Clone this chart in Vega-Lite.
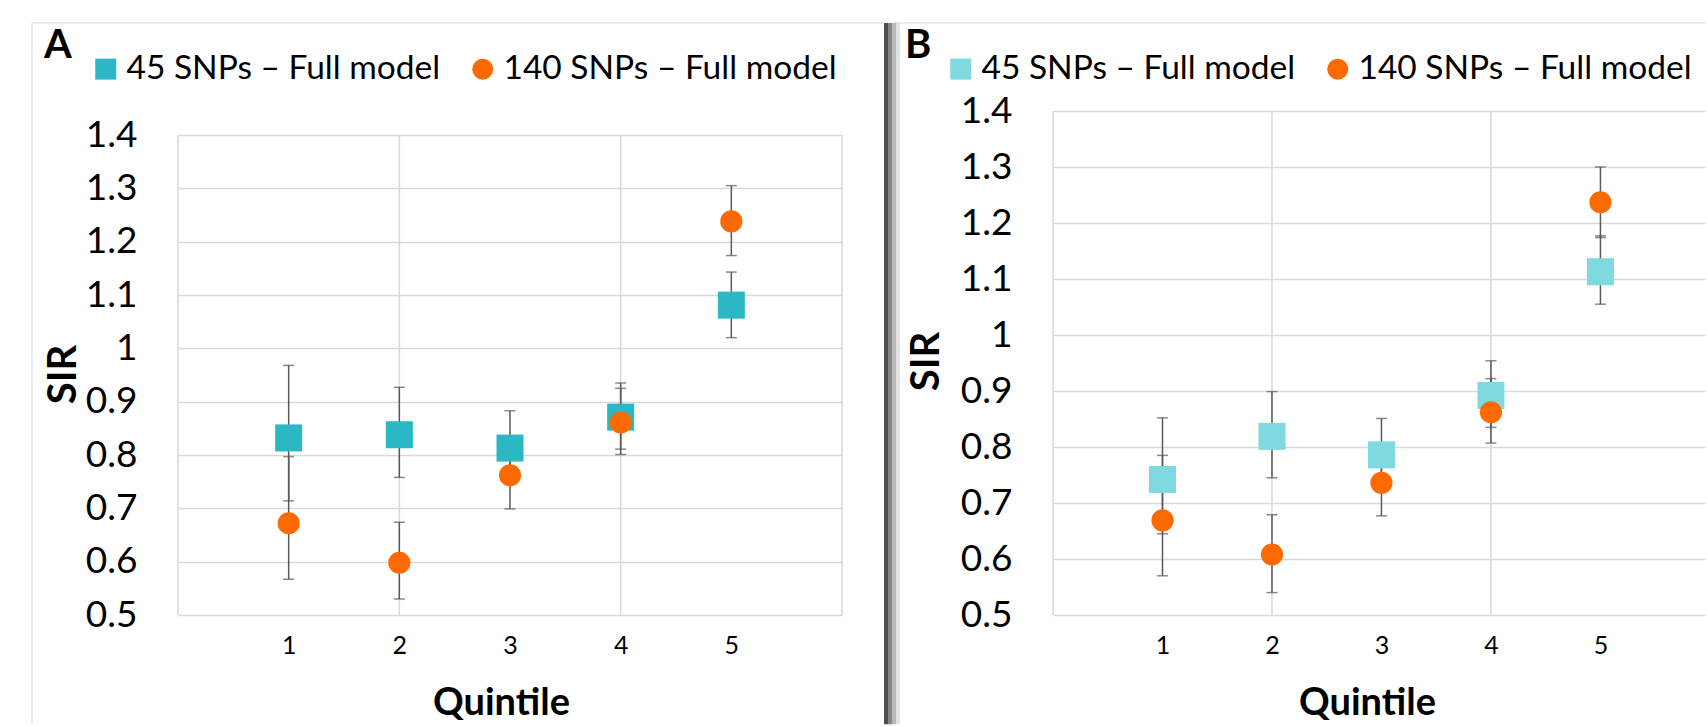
{
  "$schema": "https://vega.github.io/schema/vega-lite/v6.json",
  "padding": {"left": 31, "top": 21, "right": 0, "bottom": 0},
  "background": "white",
  "spacing": 0,
  "config": {
    "font": "Lato",
    "view": {"stroke": null},
    "axisX": {"grid": false, "domain": false, "ticks": false, "tickSize": 0, "labelFontSize": 25, "labelFont": "Lato", "labelColor": "black", "labelPadding": 30, "labelBaseline": "middle", "labelFlush": false, "titleFontSize": 38, "titleFont": "Lato", "titleFontWeight": "bold", "titleColor": "black"},
    "axisY": {"grid": true, "gridColor": "#D9D9D9", "gridWidth": 1.5, "domain": false, "ticks": false, "tickSize": 0, "labelFontSize": 37, "labelFont": "Lato", "labelColor": "black", "labelPadding": 41, "labelBaseline": "middle", "titleFontSize": 40, "titleFont": "Lato", "titleFontWeight": "bold", "titleColor": "black"},
    "legend": {
      "symbolSize": 441, "labelFontSize": 33.5, "labelFont": "Lato", "labelColor": "black",
      "labelOffset": 4, "columnPadding": 25, "padding": 0, "symbolStrokeWidth": 0,
      "symbolOpacity": 1, "labelLimit": 600, "title": null
    }
  },
  "datasets": {
    "sir": [
      {"panel": "A", "quintile": 1, "series": "45 SNPs – Full model", "sir": 0.832, "lo": 0.714, "hi": 0.968},
      {"panel": "A", "quintile": 2, "series": "45 SNPs – Full model", "sir": 0.838, "lo": 0.758, "hi": 0.927},
      {"panel": "A", "quintile": 3, "series": "45 SNPs – Full model", "sir": 0.813, "lo": 0.745, "hi": 0.883},
      {"panel": "A", "quintile": 4, "series": "45 SNPs – Full model", "sir": 0.871, "lo": 0.811, "hi": 0.935},
      {"panel": "A", "quintile": 5, "series": "45 SNPs – Full model", "sir": 1.081, "lo": 1.020, "hi": 1.143},
      {"panel": "A", "quintile": 1, "series": "140 SNPs – Full model", "sir": 0.672, "lo": 0.567, "hi": 0.797},
      {"panel": "A", "quintile": 2, "series": "140 SNPs – Full model", "sir": 0.598, "lo": 0.530, "hi": 0.674},
      {"panel": "A", "quintile": 3, "series": "140 SNPs – Full model", "sir": 0.762, "lo": 0.699, "hi": 0.830},
      {"panel": "A", "quintile": 4, "series": "140 SNPs – Full model", "sir": 0.861, "lo": 0.801, "hi": 0.925},
      {"panel": "A", "quintile": 5, "series": "140 SNPs – Full model", "sir": 1.238, "lo": 1.174, "hi": 1.305},
      {"panel": "B", "quintile": 1, "series": "45 SNPs – Full model", "sir": 0.742, "lo": 0.645, "hi": 0.852},
      {"panel": "B", "quintile": 2, "series": "45 SNPs – Full model", "sir": 0.819, "lo": 0.745, "hi": 0.899},
      {"panel": "B", "quintile": 3, "series": "45 SNPs – Full model", "sir": 0.786, "lo": 0.725, "hi": 0.851},
      {"panel": "B", "quintile": 4, "series": "45 SNPs – Full model", "sir": 0.892, "lo": 0.835, "hi": 0.954},
      {"panel": "B", "quintile": 5, "series": "45 SNPs – Full model", "sir": 1.113, "lo": 1.055, "hi": 1.177},
      {"panel": "B", "quintile": 1, "series": "140 SNPs – Full model", "sir": 0.669, "lo": 0.570, "hi": 0.785},
      {"panel": "B", "quintile": 2, "series": "140 SNPs – Full model", "sir": 0.608, "lo": 0.540, "hi": 0.679},
      {"panel": "B", "quintile": 3, "series": "140 SNPs – Full model", "sir": 0.736, "lo": 0.677, "hi": 0.800},
      {"panel": "B", "quintile": 4, "series": "140 SNPs – Full model", "sir": 0.862, "lo": 0.807, "hi": 0.922},
      {"panel": "B", "quintile": 5, "series": "140 SNPs – Full model", "sir": 1.237, "lo": 1.174, "hi": 1.300}
    ]
  },
  "resolve": {
    "scale": {"x": "independent", "y": "independent", "color": "independent", "shape": "independent"},
    "legend": {"color": "independent", "shape": "independent"}
  },
  "hconcat": [
    {
      "width": 664,
      "height": 504,
      "data": {"name": "sir"},
      "layer": [
        {
          "data": {"values": [{}]},
          "mark": {"type": "rule", "color": "#EAEAEA", "strokeWidth": 2},
          "encoding": {
            "x": {"datum": -1.319, "type": "quantitative", "title": "Quintile", "scale": {"domain": [0, 6], "nice": false, "zero": false}},
            "x2": {"datum": 6.37},
            "y": {"datum": 1.61, "type": "quantitative", "title": "SIR", "scale": {"domain": [0.5, 1.445], "nice": false, "zero": false}}
          }
        },
        {
          "data": {"values": [{}]},
          "mark": {"type": "rule", "color": "#EAEAEA", "strokeWidth": 2},
          "encoding": {
            "x": {"datum": -1.319, "type": "quantitative", "title": "Quintile"},
            "y": {"datum": 1.61, "type": "quantitative", "title": "SIR"},
            "y2": {"datum": 0.294}
          }
        },
        {
          "data": {"values": [{"g": 0}, {"g": 2}, {"g": 4}, {"g": 6}]},
          "mark": {"type": "rule", "color": "#D9D9D9", "strokeWidth": 1.5},
          "encoding": {
            "x": {"field": "g", "type": "quantitative", "title": "Quintile"},
            "y": {"datum": 1.4, "type": "quantitative", "title": "SIR"},
            "y2": {"datum": 0.5}
          }
        },
        {
          "data": {"values": [{"letter": "A"}]},
          "mark": {"type": "text", "align": "left", "baseline": "alphabetic", "fontSize": 40, "fontWeight": "bold", "font": "Lato", "color": "black"},
          "encoding": {
            "text": {"field": "letter"},
            "x": {"datum": -1.211, "type": "quantitative", "title": "Quintile"},
            "y": {"datum": 1.544, "type": "quantitative", "title": "SIR"}
          }
        },
        {
          "transform": [{"filter": "datum.panel == 'A'"}],
          "mark": {"type": "rule", "color": "#595959", "strokeWidth": 1.5},
          "encoding": {
            "x": {"field": "quintile", "type": "quantitative", "title": "Quintile"},
            "y": {"field": "lo", "type": "quantitative", "title": "SIR"},
            "y2": {"field": "hi"}
          }
        },
        {
          "transform": [{"filter": "datum.panel == 'A'"}],
          "mark": {"type": "tick", "orient": "horizontal", "color": "#595959", "thickness": 1.5, "size": 11},
          "encoding": {
            "x": {"field": "quintile", "type": "quantitative", "title": "Quintile"},
            "y": {"field": "lo", "type": "quantitative", "title": "SIR"}
          }
        },
        {
          "transform": [{"filter": "datum.panel == 'A'"}],
          "mark": {"type": "tick", "orient": "horizontal", "color": "#595959", "thickness": 1.5, "size": 11},
          "encoding": {
            "x": {"field": "quintile", "type": "quantitative", "title": "Quintile"},
            "y": {"field": "hi", "type": "quantitative", "title": "SIR"}
          }
        },
        {
          "transform": [{"filter": "datum.series == '45 SNPs – Full model' && datum.panel == 'A'"}],
          "mark": {"type": "point", "filled": true, "opacity": 1, "strokeWidth": 0, "size": 729},
          "encoding": {
            "x": {
              "field": "quintile", "type": "quantitative", "title": "Quintile",
              "axis": {"values": [1, 2, 3, 4, 5], "format": "d", "titleX": 323, "titleY": 99, "titleBaseline": "alphabetic", "titleAlign": "center"}
            },
            "y": {
              "field": "sir", "type": "quantitative", "title": "SIR",
              "axis": {"values": [0.5, 0.6, 0.7, 0.8, 0.9, 1.0, 1.1, 1.2, 1.3, 1.4], "format": ".1~f",
                "titleAngle": -90, "titleX": -114.5, "titleY": 263, "titleAlign": "center", "titleBaseline": "middle"}
            },
            "color": {
              "field": "series", "type": "nominal",
              "scale": {"domain": ["45 SNPs – Full model", "140 SNPs – Full model"], "range": ["#2BB7C3", "#FF6A00"]},
              "legend": {"orient": "none", "legendX": -89, "legendY": -59, "direction": "horizontal", "title": null}
            },
            "shape": {
              "field": "series", "type": "nominal",
              "scale": {"domain": ["45 SNPs – Full model", "140 SNPs – Full model"], "range": ["square", "circle"]},
              "legend": {"orient": "none", "legendX": -89, "legendY": -59, "direction": "horizontal", "title": null}
            }
          }
        },
        {
          "transform": [{"filter": "datum.series == '140 SNPs – Full model' && datum.panel == 'A'"}],
          "mark": {"type": "point", "filled": true, "opacity": 1, "strokeWidth": 0, "size": 491},
          "encoding": {
            "x": {"field": "quintile", "type": "quantitative", "title": "Quintile"},
            "y": {"field": "sir", "type": "quantitative", "title": "SIR"},
            "color": {"field": "series", "type": "nominal"},
            "shape": {"field": "series", "type": "nominal"}
          }
        }
      ]
    },
    {
      "width": 652,
      "height": 504,
      "data": {"name": "sir"},
      "layer": [
        {
          "data": {"values": [{}]},
          "mark": {"type": "rule", "color": "#EAEAEA", "strokeWidth": 2},
          "encoding": {
            "x": {"datum": -1.461, "type": "quantitative", "title": "Quintile", "scale": {"domain": [0, 5.955], "nice": false, "zero": false}},
            "x2": {"datum": 5.955},
            "y": {"datum": 1.557, "type": "quantitative", "title": "SIR", "scale": {"domain": [0.5, 1.4], "nice": false, "zero": false}}
          }
        },
        {
          "data": {"values": [{}]},
          "mark": {"type": "rule", "color": "#4D4D4D", "strokeWidth": 4},
          "encoding": {
            "x": {"datum": -1.525, "type": "quantitative", "title": "Quintile"},
            "y": {"datum": 1.557, "type": "quantitative", "title": "SIR"},
            "y2": {"datum": 0.305}
          }
        },
        {
          "data": {"values": [{}]},
          "mark": {"type": "rule", "color": "#858585", "strokeWidth": 4},
          "encoding": {
            "x": {"datum": -1.489, "type": "quantitative", "title": "Quintile"},
            "y": {"datum": 1.557, "type": "quantitative", "title": "SIR"},
            "y2": {"datum": 0.305}
          }
        },
        {
          "data": {"values": [{}]},
          "mark": {"type": "rule", "color": "#B8B8B8", "strokeWidth": 4},
          "encoding": {
            "x": {"datum": -1.452, "type": "quantitative", "title": "Quintile"},
            "y": {"datum": 1.557, "type": "quantitative", "title": "SIR"},
            "y2": {"datum": 0.305}
          }
        },
        {
          "data": {"values": [{}]},
          "mark": {"type": "rule", "color": "#E2E2E2", "strokeWidth": 4},
          "encoding": {
            "x": {"datum": -1.416, "type": "quantitative", "title": "Quintile"},
            "y": {"datum": 1.557, "type": "quantitative", "title": "SIR"},
            "y2": {"datum": 0.305}
          }
        },
        {
          "data": {"values": [{"g": 0}, {"g": 2}, {"g": 4}]},
          "mark": {"type": "rule", "color": "#D9D9D9", "strokeWidth": 1.5},
          "encoding": {
            "x": {"field": "g", "type": "quantitative", "title": "Quintile"},
            "y": {"datum": 1.4, "type": "quantitative", "title": "SIR"},
            "y2": {"datum": 0.5}
          }
        },
        {
          "data": {"values": [{"letter": "B"}]},
          "mark": {"type": "text", "align": "left", "baseline": "alphabetic", "fontSize": 40, "fontWeight": "bold", "font": "Lato", "color": "black"},
          "encoding": {
            "text": {"field": "letter"},
            "x": {"datum": -1.352, "type": "quantitative", "title": "Quintile"},
            "y": {"datum": 1.4946, "type": "quantitative", "title": "SIR"}
          }
        },
        {
          "transform": [{"filter": "datum.panel == 'B'"}],
          "mark": {"type": "rule", "color": "#595959", "strokeWidth": 1.5},
          "encoding": {
            "x": {"field": "quintile", "type": "quantitative", "title": "Quintile"},
            "y": {"field": "lo", "type": "quantitative", "title": "SIR"},
            "y2": {"field": "hi"}
          }
        },
        {
          "transform": [{"filter": "datum.panel == 'B'"}],
          "mark": {"type": "tick", "orient": "horizontal", "color": "#595959", "thickness": 1.5, "size": 11},
          "encoding": {
            "x": {"field": "quintile", "type": "quantitative", "title": "Quintile"},
            "y": {"field": "lo", "type": "quantitative", "title": "SIR"}
          }
        },
        {
          "transform": [{"filter": "datum.panel == 'B'"}],
          "mark": {"type": "tick", "orient": "horizontal", "color": "#595959", "thickness": 1.5, "size": 11},
          "encoding": {
            "x": {"field": "quintile", "type": "quantitative", "title": "Quintile"},
            "y": {"field": "hi", "type": "quantitative", "title": "SIR"}
          }
        },
        {
          "transform": [{"filter": "datum.series == '45 SNPs – Full model' && datum.panel == 'B'"}],
          "mark": {"type": "point", "filled": true, "opacity": 1, "strokeWidth": 0, "size": 729},
          "encoding": {
            "x": {
              "field": "quintile", "type": "quantitative", "title": "Quintile",
              "axis": {"values": [1, 2, 3, 4, 5], "format": "d", "titleX": 314, "titleY": 99, "titleBaseline": "alphabetic", "titleAlign": "center"}
            },
            "y": {
              "field": "sir", "type": "quantitative", "title": "SIR",
              "axis": {"values": [0.5, 0.6, 0.7, 0.8, 0.9, 1.0, 1.1, 1.2, 1.3, 1.4], "format": ".1~f",
                "titleAngle": -90, "titleX": -127, "titleY": 250, "titleAlign": "center", "titleBaseline": "middle"}
            },
            "color": {
              "field": "series", "type": "nominal",
              "scale": {"domain": ["45 SNPs – Full model", "140 SNPs – Full model"], "range": ["#7ED9E0", "#FF6A00"]},
              "legend": {"orient": "none", "legendX": -109, "legendY": -59, "direction": "horizontal", "title": null}
            },
            "shape": {
              "field": "series", "type": "nominal",
              "scale": {"domain": ["45 SNPs – Full model", "140 SNPs – Full model"], "range": ["square", "circle"]},
              "legend": {"orient": "none", "legendX": -109, "legendY": -59, "direction": "horizontal", "title": null}
            }
          }
        },
        {
          "transform": [{"filter": "datum.series == '140 SNPs – Full model' && datum.panel == 'B'"}],
          "mark": {"type": "point", "filled": true, "opacity": 1, "strokeWidth": 0, "size": 491},
          "encoding": {
            "x": {"field": "quintile", "type": "quantitative", "title": "Quintile"},
            "y": {"field": "sir", "type": "quantitative", "title": "SIR"},
            "color": {"field": "series", "type": "nominal"},
            "shape": {"field": "series", "type": "nominal"}
          }
        }
      ]
    }
  ]
}
